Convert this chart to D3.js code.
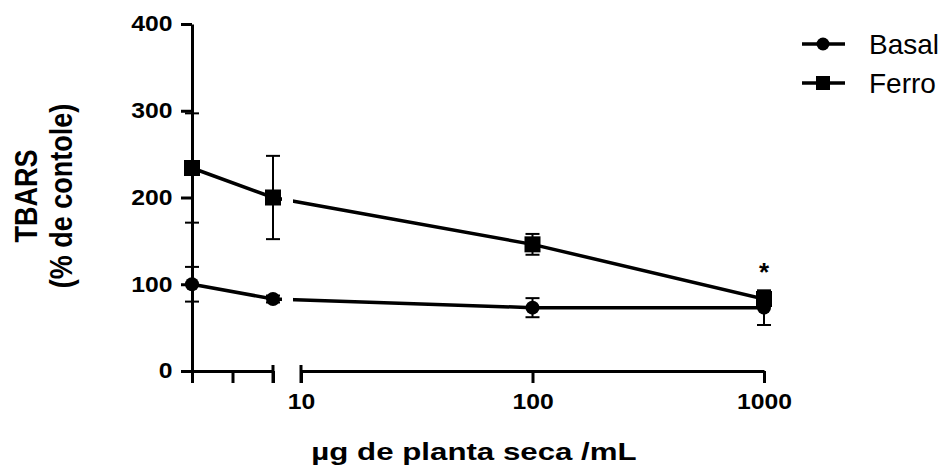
<!DOCTYPE html>
<html>
<head>
<meta charset="utf-8">
<script src="https://cdn.jsdelivr.net/npm/d3@7"></script>
<style>
  body { margin: 0; background: #fff; }
  text { font-family: "Liberation Sans", Arial, sans-serif; fill: #000; }
</style>
</head>
<body>
<script>
// doses: the first two sit on the linear segment before the axis break
var doses = [0, 2, 100, 1000];
var basalMean = [100, 83, 73, 73];
var basalErr = [20, 4, 11, 20];
var ferroMean = [234, 200, 146, 83];
var ferroErr = [63, 48, 12, 5];
var yTicks = [0, 100, 200, 300, 400];
var linTicks = [0, 1, 2];
var logTicks = [10, 100, 1000];
var seriesNames = ['Basal', 'Ferro'];

var W = 951, H = 473;

var svg = d3.select('body').append('svg')
    .attr('width', W)
    .attr('height', H);

// scales: linear segment, then a log segment after the break
var xLin = d3.scaleLinear().domain([0, 2]).range([192, 273]);
var xLog = d3.scaleLog().domain([10, 1000]).range([301, 764]);
var y = d3.scaleLinear().domain([0, 400]).range([371, 24]);
function xPos(d) { return d <= 2 ? xLin(d) : xLog(d); }

// y axis
var yAxis = svg.append('g')
    .attr('transform', 'translate(192,0)')
    .call(d3.axisLeft(y).tickValues(yTicks).tickSize(11).tickSizeOuter(0).tickPadding(6));
yAxis.selectAll('path, line').attr('stroke', '#000').attr('stroke-width', 3);
yAxis.selectAll('text')
    .attr('font-size', 21.5)
    .attr('font-weight', 'bold')
    .attr('transform', 'scale(1.15,1)');

// x axis, first segment
var xa1 = svg.append('g')
    .attr('transform', 'translate(0,371)')
    .call(d3.axisBottom(xLin).tickValues(linTicks).tickSize(12).tickSizeOuter(0).tickFormat(''));
xa1.selectAll('path, line').attr('stroke', '#000').attr('stroke-width', 3);

// x axis, log segment
var xa2 = svg.append('g')
    .attr('transform', 'translate(0,371)')
    .call(d3.axisBottom(xLog).tickValues(logTicks).tickSize(12).tickSizeOuter(0)
      .tickFormat(d3.format('d')).tickPadding(11));
xa2.selectAll('path, line').attr('stroke', '#000').attr('stroke-width', 3);
xa2.selectAll('text')
    .attr('font-size', 21.5)
    .attr('font-weight', 'bold')
    .attr('transform', 'scale(1.15,1)');

// end caps at the break
[xLin(2), xLog(10)].forEach(function(px) {
  svg.append('line')
      .attr('x1', px).attr('x2', px)
      .attr('y1', 365).attr('y2', 383)
      .attr('stroke', '#000').attr('stroke-width', 3);
});

// clip so the lines leave a gap at the break
var defs = svg.append('defs');
var clip = defs.append('clipPath').attr('id', 'gap');
clip.append('rect').attr('x', 0).attr('y', 0).attr('width', 282).attr('height', H);
clip.append('rect').attr('x', 293).attr('y', 0).attr('width', W - 293).attr('height', H);

var line = d3.line()
    .x(function(d) { return xPos(d[0]); })
    .y(function(d) { return y(d[1]); });

function drawSeries(means, errs, shape) {
  var pts = doses.map(function(d, i) { return [d, means[i], errs[i]]; });

  svg.append('path')
      .datum(pts)
      .attr('clip-path', 'url(#gap)')
      .attr('fill', 'none')
      .attr('stroke', '#000')
      .attr('stroke-width', 3.5)
      .attr('d', line);

  var eb = svg.append('g').selectAll('g').data(pts).enter().append('g');
  eb.append('line')
      .attr('x1', function(d) { return xPos(d[0]); })
      .attr('x2', function(d) { return xPos(d[0]); })
      .attr('y1', function(d) { return y(d[1] - d[2]); })
      .attr('y2', function(d) { return y(d[1] + d[2]); })
      .attr('stroke', '#000').attr('stroke-width', 2);
  [-1, 1].forEach(function(s) {
    eb.append('line')
        .attr('x1', function(d) { return xPos(d[0]) - 7; })
        .attr('x2', function(d) { return xPos(d[0]) + 7; })
        .attr('y1', function(d) { return y(d[1] + s * d[2]); })
        .attr('y2', function(d) { return y(d[1] + s * d[2]); })
        .attr('stroke', '#000').attr('stroke-width', 2);
  });

  if (shape === 'circle') {
    svg.append('g').selectAll('circle').data(pts).enter().append('circle')
        .attr('cx', function(d) { return xPos(d[0]); })
        .attr('cy', function(d) { return y(d[1]); })
        .attr('r', 7)
        .attr('fill', '#000');
  } else {
    svg.append('g').selectAll('rect').data(pts).enter().append('rect')
        .attr('x', function(d) { return xPos(d[0]) - 8; })
        .attr('y', function(d) { return y(d[1]) - 8; })
        .attr('width', 16).attr('height', 16)
        .attr('fill', '#000');
  }
}

drawSeries(basalMean, basalErr, 'circle');
drawSeries(ferroMean, ferroErr, 'square');

// significance mark
svg.append('text')
    .attr('x', xPos(1000))
    .attr('y', y(ferroMean[3] + ferroErr[3]) - 14)
    .attr('text-anchor', 'middle')
    .attr('font-size', 26)
    .attr('font-weight', 'bold')
    .text('*');

// axis titles
svg.append('text')
    .attr('transform', 'translate(474,460) scale(1.33,1)')
    .attr('text-anchor', 'middle')
    .attr('font-size', 23.5)
    .attr('font-weight', 'bold')
    .text('µg de planta seca /mL');

svg.append('text')
    .attr('transform', 'translate(37,196) scale(1.15,1) rotate(-90)')
    .attr('text-anchor', 'middle')
    .attr('font-size', 27)
    .attr('font-weight', 'bold')
    .text('TBARS');

svg.append('text')
    .attr('transform', 'translate(72,196) scale(1.15,1) rotate(-90)')
    .attr('text-anchor', 'middle')
    .attr('font-size', 27)
    .attr('font-weight', 'bold')
    .text('(% de contole)');

// legend
var legend = svg.append('g').selectAll('g')
    .data(seriesNames)
    .enter()
  .append('g')
    .attr('transform', function(d, i) { return 'translate(0,' + (44 + i * 39) + ')'; });
legend.append('line')
    .attr('x1', 802).attr('x2', 845)
    .attr('stroke', '#000').attr('stroke-width', 3.5);
legend.filter(function(d, i) { return i === 0; }).append('circle')
    .attr('cx', 823).attr('r', 6.5).attr('fill', '#000');
legend.filter(function(d, i) { return i === 1; }).append('rect')
    .attr('x', 816).attr('y', -7).attr('width', 14).attr('height', 14).attr('fill', '#000');
legend.append('text')
    .attr('x', 869)
    .attr('y', 10)
    .attr('font-size', 28)
    .text(function(d) { return d; });
</script>
</body>
</html>
